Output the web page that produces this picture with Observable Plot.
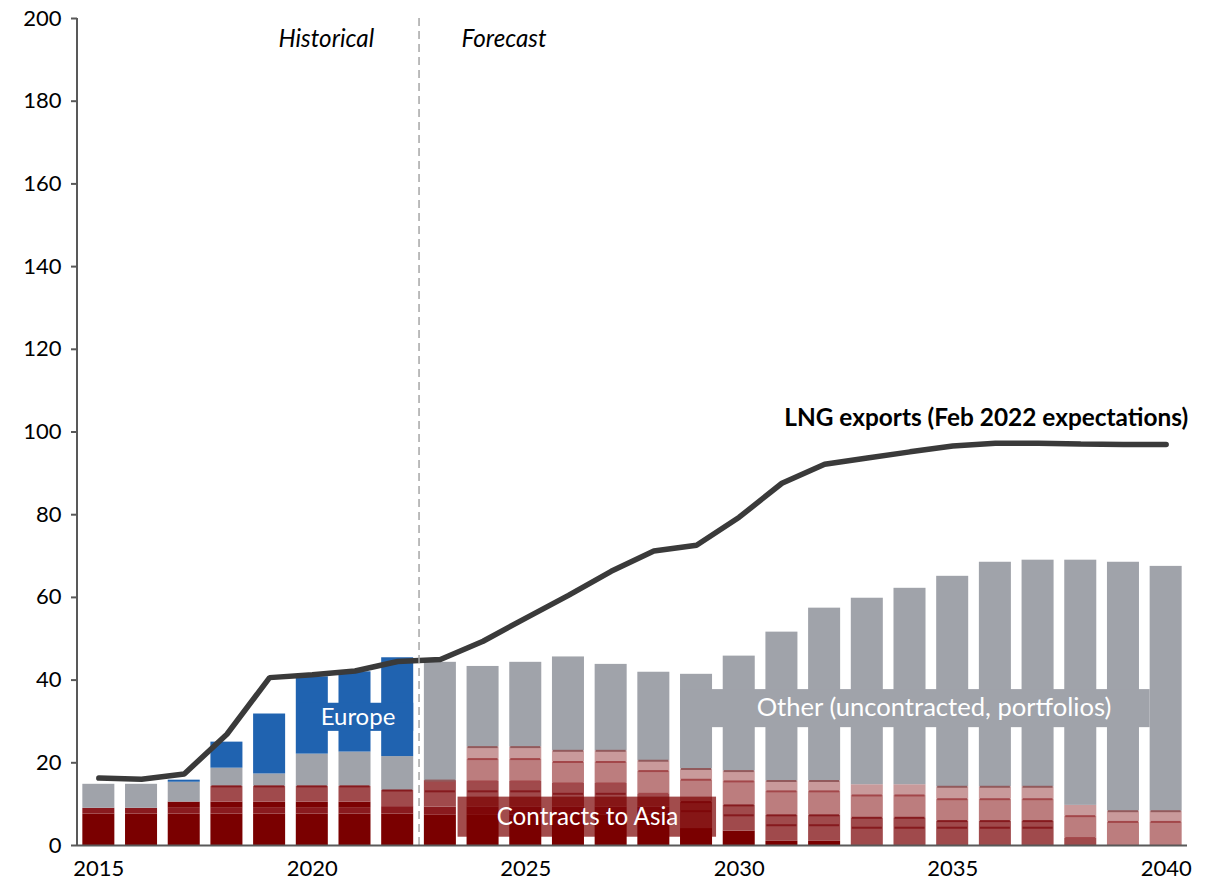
<!DOCTYPE html>
<html>
<head>
<meta charset="utf-8">
<script src="https://cdn.jsdelivr.net/npm/d3@7"></script>
<script src="https://cdn.jsdelivr.net/npm/@observablehq/plot@0.6"></script>
<style>
  html, body { margin: 0; padding: 0; background: #fff; }
  #chart svg { display: block; }
</style>
</head>
<body>
<div id="chart"></div>
<script>
// ---- Data ----
const years = [2015, 2016, 2017, 2018, 2019, 2020, 2021, 2022, 2023, 2024, 2025, 2026, 2027,
               2028, 2029, 2030, 2031, 2032, 2033, 2034, 2035, 2036, 2037, 2038, 2039, 2040];

// Contracts to Asia, stacked groups (bottom -> top)
const contractsA = [7.6, 7.6, 7.6, 7.6, 7.6, 7.6, 7.6, 7.6, 7.3, 7.3, 7.3, 7.3, 7.3, 7.3, 4.1, 3.5, 1.0, 1.0, 0, 0, 0, 0, 0, 0, 0, 0];
const contractsB = [1.4, 1.4, 1.4, 1.4, 1.4, 1.4, 1.4, 1.8, 2.0, 2.0, 2.0, 2.0, 2.0, 2.0, 0, 0, 0, 0, 0, 0, 0, 0, 0, 0, 0, 0];
const contractsC = [0, 0, 1.5, 1.5, 1.5, 1.5, 1.5, 0, 0, 0, 0, 0, 0, 0, 0, 0, 0, 0, 0, 0, 0, 0, 0, 0, 0, 0];
const contractsD = [0, 0, 0, 3.8, 3.8, 3.8, 3.8, 3.9, 6.4, 6.2, 6.2, 5.7, 5.7, 3.2, 6.4, 6.2, 6.3, 6.3, 6.7, 6.7, 5.9, 5.9, 5.9, 1.8, 0, 0];
const contractsE = [0, 0, 0, 0, 0, 0, 0, 0, 0, 5.4, 5.4, 5.2, 5.2, 5.5, 5.4, 5.8, 5.8, 5.8, 5.4, 5.4, 5.3, 5.3, 5.3, 5.3, 5.7, 5.7];
const contractsF = [0, 0, 0, 0, 0, 0, 0, 0, 0, 2.9, 2.9, 2.7, 2.7, 2.5, 2.6, 2.5, 2.5, 2.5, 2.6, 2.6, 3.0, 3.0, 3.0, 2.6, 2.6, 2.6];
// Other (uncontracted, portfolios)
const other = [5.8, 5.8, 4.8, 4.4, 3.0, 7.8, 8.3, 8.2, 28.6, 19.5, 20.5, 22.7, 20.9, 21.4, 22.9, 27.8, 36.0, 41.8, 45.1, 47.5, 50.9, 54.3, 54.8, 59.3, 60.2, 59.2];
// Europe
const europe = [0, 0, 0.5, 6.3, 14.5, 18.7, 19.4, 23.9, 0, 0, 0, 0, 0, 0, 0, 0, 0, 0, 0, 0, 0, 0, 0, 0, 0, 0];
// LNG exports (Feb 2022 expectations)
const lngExports = [16.3, 16.0, 17.3, 26.9, 40.6, 41.3, 42.2, 44.5, 45.0, 49.4, 55.0, 60.5, 66.3, 71.2, 72.6, 79.4, 87.6, 92.2, 93.7, 95.2, 96.6, 97.3, 97.3, 97.1, 97.0, 97.0];

// Contract boundary lines: [year, value, kind]  (kind: t = top, l = light, m = mid)
const separators = [
  [2018, 14.3, "m"], [2019, 14.3, "m"], [2020, 14.3, "m"], [2021, 14.3, "m"], [2022, 13.3, "m"],
  [2023, 13.1, "m"], [2023, 15.7, "t"],
  [2024, 13.1, "m"], [2024, 15.5, "l"], [2024, 20.9, "l"], [2024, 23.8, "t"],
  [2025, 13.1, "m"], [2025, 15.5, "l"], [2025, 20.9, "l"], [2025, 23.8, "t"],
  [2026, 12.5, "m"], [2026, 15.0, "l"], [2026, 20.2, "l"], [2026, 22.9, "t"],
  [2027, 12.5, "m"], [2027, 15.0, "l"], [2027, 20.2, "l"], [2027, 22.9, "t"],
  [2028, 12.5, "l"], [2028, 18.0, "l"], [2028, 20.5, "t"],
  [2029, 8.3, "m"], [2029, 10.5, "m"], [2029, 15.9, "l"], [2029, 18.5, "t"],
  [2030, 7.3, "m"], [2030, 9.7, "m"], [2030, 15.5, "l"], [2030, 18.0, "t"],
  [2031, 4.9, "m"], [2031, 7.3, "m"], [2031, 13.1, "l"], [2031, 15.6, "t"],
  [2032, 4.9, "m"], [2032, 7.3, "m"], [2032, 13.1, "l"], [2032, 15.6, "t"],
  [2033, 4.3, "m"], [2033, 6.7, "m"], [2033, 12.1, "l"],
  [2034, 4.3, "m"], [2034, 6.7, "m"], [2034, 12.1, "l"],
  [2035, 4.3, "m"], [2035, 5.9, "m"], [2035, 11.2, "l"], [2035, 14.2, "t"],
  [2036, 4.3, "m"], [2036, 5.9, "m"], [2036, 11.2, "l"], [2036, 14.2, "t"],
  [2037, 4.3, "m"], [2037, 5.9, "m"], [2037, 11.2, "l"], [2037, 14.2, "t"],
  [2038, 1.8, "l"], [2038, 7.1, "l"],
  [2039, 5.7, "l"], [2039, 8.3, "t"],
  [2040, 5.7, "l"], [2040, 8.3, "t"]
];

const yTicks = [0, 20, 40, 60, 80, 100, 120, 140, 160, 180, 200];
const xTickLabels = [2015, 2020, 2025, 2030, 2035, 2040];

// ---- Build stacked table ----
const seriesDefs = [
  ["A", contractsA, "#7a0000"],
  ["B", contractsB, "#8a1a1e"],
  ["C", contractsC, "#7b0203"],
  ["D", contractsD, "#a04a4c"],
  ["E", contractsE, "#bc7d7e"],
  ["F", contractsF, "#c99a9b"],
  ["Other", other, "#a0a3aa"],
  ["Europe", europe, "#2063b0"]
];
const table = [];
for (const [name, vals] of seriesDefs) {
  years.forEach((yr, i) => table.push({year: yr, series: name, value: vals[i]}));
}
const lineData = years.map((yr, i) => ({year: yr, value: lngExports[i]}));
const sepColor = {t: "#925a5c", l: "#a3474a", m: "#861a1e"};

// ---- Layout ----
const W = 1222, H = 883;
const mL = 77, mR = 35, mT = 18, mB = 38;
const step = (W - mL - mR) / years.length;
const font = "Lato, 'Open Sans', sans-serif";

// helper: label box drawn in scale space
function labelBox(x1Year, dx1, x2Year, dx2, yLo, yHi, fill, opacity) {
  return (index, scales) => {
    const x = scales.x, y = scales.y;
    const left = x(x1Year) + dx1;
    const right = x(x2Year) + x.bandwidth() + dx2;
    const r = d3.create("svg:rect")
      .attr("x", left).attr("width", right - left)
      .attr("y", y(yHi)).attr("height", y(yLo) - y(yHi))
      .attr("fill", fill).attr("fill-opacity", opacity);
    return r.node();
  };
}
function axisLineY(index, scales, values, dims) {
  return d3.create("svg:line")
    .attr("x1", dims.marginLeft).attr("x2", dims.marginLeft)
    .attr("y1", dims.marginTop).attr("y2", dims.height - dims.marginBottom + 1)
    .attr("stroke", "#595959").attr("stroke-width", 2).node();
}

const chart = Plot.plot({
  width: W,
  height: H,
  marginLeft: mL,
  marginRight: mR,
  marginTop: mT,
  marginBottom: mB,
  style: {fontFamily: font, fontSize: "22px", color: "#000", background: "#fff"},
  x: {type: "band", domain: years, paddingInner: 0.25, paddingOuter: 0.125, round: false, label: null},
  y: {domain: [0, 200], label: null},
  color: {domain: seriesDefs.map(d => d[0]), range: seriesDefs.map(d => d[2])},
  marks: [
    Plot.barY(table, {
      x: "year", y: "value", fill: "series",
      order: seriesDefs.map(d => d[0])
    }),
    Plot.tickY(separators, {
      x: d => d[0], y: d => d[1],
      stroke: d => sepColor[d[2]], strokeWidth: 2, insetLeft: 1, insetRight: 1
    }),
    Plot.line(lineData, {
      x: "year", y: "value", stroke: "#3a3a3a", strokeWidth: 5.5,
      strokeLinejoin: "miter", curve: "linear"
    }),
    Plot.ruleX([2022], {
      dx: step / 2, y1: 0, y2: 200,
      stroke: "#a6a6a6", strokeWidth: 1.5, strokeDasharray: "8,5"
    }),
    // Label boxes
    labelBox(2020, 4, 2022, 0, 27.6, 34.4, "#2063b0", 1),
    labelBox(2029, 0, 2040, -32, 28.5, 37.7, "#a0a3aa", 1),
    labelBox(2024, -9, 2029, 4, 2.0, 11.7, "#7a0000", 0.7),
    // Texts
    Plot.text(["Europe"], {x: () => 2021, y: () => 31.1, dx: 3, text: d => d, fill: "#fff", fontSize: 24}),
    Plot.text(["Other (uncontracted, portfolios)"], {x: () => 2034, y: () => 33.2, dx: 24, text: d => d, fill: "#fff", fontSize: 25.6}),
    Plot.text(["Contracts to Asia"], {x: () => 2026, y: () => 6.8, dx: 19, text: d => d, fill: "#fff", fontSize: 24.2}),
    Plot.text(["Historical"], {x: () => 2020, y: () => 195, dx: 14, text: d => d, fontStyle: "italic", fontSize: 24.2, fill: "#000"}),
    Plot.text(["Forecast"], {x: () => 2024, y: () => 195, dx: 21, text: d => d, fontStyle: "italic", fontSize: 24.2, fill: "#000"}),
    Plot.text(["LNG exports (Feb 2022 expectations)"], {x: () => 2040, y: () => 103.3, dx: 22, textAnchor: "end", text: d => d, fontWeight: "bold", fontSize: 24.4, fill: "#000"}),
    // Axes
    Plot.axisY({ticks: yTicks, tickSize: 6, tickPadding: 10, fontSize: 22, stroke: "#595959", strokeWidth: 2, fill: "#000", label: null}),
    Plot.axisX({ticks: xTickLabels, tickFormat: d => String(d), tickSize: 0, tickPadding: 15, fontSize: 22, fill: "#000", label: null}),
    Plot.ruleY([0], {stroke: "#595959", strokeWidth: 2}),
    axisLineY
  ]
});
document.getElementById("chart").appendChild(chart);
</script>
</body>
</html>
